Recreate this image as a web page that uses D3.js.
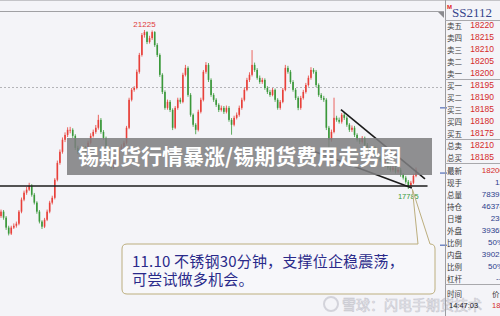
<!DOCTYPE html>
<html>
<head>
<meta charset="utf-8">
<script src="https://cdn.jsdelivr.net/npm/d3@7"></script>
<style>
  body { margin: 0; background: #f4f4f8; overflow: hidden; }
</style>
</head>
<body>
<div id="chart"></div>
<script>
// K线数据: [open, high, low, close]
var candles = [
  [17200,17340,17160,17295],[17295,17330,17120,17165],[17165,17200,16900,16950],[16950,16990,16780,16820],
  [16820,16990,16790,16950],[16950,17040,16920,16990],[16990,17080,16950,17035],[17035,17330,17000,17295],
  [17295,17600,17260,17555],[17555,17750,17520,17705],[17705,17830,17660,17770],[17770,17920,17740,17855],
  [17855,17890,17620,17660],[17660,17700,17450,17490],[17490,17520,17250,17295],[17295,17330,17040,17080],
  [17080,17110,16920,16970],[16970,17160,16940,17120],[17120,17340,17090,17295],[17295,17530,17260,17490],
  [17490,17640,17450,17595],
  [17595,18020,17560,17985],[17985,18400,17950,18350],[18350,18640,18310,18590],[18590,18900,18550,18850],
  [18850,19010,18800,18955],[18955,19120,18910,19065],[19065,19130,18990,19065],[19065,19100,18890,18935],
  [18935,18970,18630,18675],[18675,18720,18540,18590],[18590,18690,18550,18635],[18635,18720,18600,18675],
  [18675,18710,18550,18590],[18590,18830,18560,18785],[18785,18990,18750,18935],[18935,19070,18900,19020],
  [19020,19170,18980,19110],[19110,19390,19070,19280],[19280,19320,18980,19020],[19020,19060,18850,18890],
  [18890,18920,18630,18675],[18675,18710,18370,18415],[18415,18450,18200,18245],[18245,18420,18210,18375],
  [18375,18460,18330,18415],[18415,18680,18380,18635],[18635,18750,18600,18700],[18700,18830,18660,18785],
  [18785,19150,18750,19110],
  [19110,19760,19080,19715],[19715,19970,19680,19930],[19930,20010,19890,19970],[19970,20370,19940,20320],
  [20320,20730,20280,20685],[20685,21160,20650,21115],[21115,21225,21060,21180],[21180,21200,20920,20965],
  [20965,21100,20930,21050],[21050,21215,21010,21180],
  [21180,21200,20860,20900],[20900,20940,20640,20685],[20685,20720,20210,20255],[20255,20290,19840,19885],
  [19885,19920,19500,19540],[19540,19720,19500,19670],[19670,19710,19450,19495],[19495,19530,19060,19110],
  [19110,19580,19080,19540],[19540,19760,19500,19715],[19715,19760,19630,19670],[19670,20300,19640,20255],
  [20255,20470,20220,20405],[20405,20440,19780,19820],[19820,19860,19350,19390],[19390,19420,19130,19175],
  [19175,19210,18970,19065],[19065,19500,19030,19455],[19455,19760,19420,19715],[19715,20360,19680,20320],
  [20320,20530,20280,20470],[20470,20510,20100,20145],[20145,20180,19780,19820],[19820,19860,19670,19715],
  [19715,19750,19560,19605],[19605,19640,19450,19495],[19495,19590,19460,19540],[19540,19580,19410,19455],
  [19455,19590,19420,19540],
  [19540,19580,19240,19280],[19280,19320,18960,19175],[19175,19370,19140,19325],[19325,19440,19290,19390],
  [19390,19590,19350,19540],[19540,19760,19500,19715],[19715,19980,19680,19930],[19930,20190,19900,20145],
  [20145,20310,20100,20255],[20255,20790,20220,20470],[20470,20520,20320,20360],[20360,20400,20150,20190],
  [20190,20240,20060,20100],[20100,20190,20060,20145],[20145,20180,19930,19970],[19970,20010,19840,19885],
  [19885,19930,19780,19820],[19820,19970,19790,19930],[19930,19960,19670,19715],[19715,19750,19500,19540],
  [19540,19710,19500,19670],[19670,19970,19640,19930],[19930,20470,19900,20405],[20405,20450,20280,20320],
  [20320,20360,20060,20100],[20100,20140,19890,19930],[19930,19970,19710,19755],[19755,19790,19490,19540],
  [19540,19800,19500,19755],[19755,19930,19720,19885],[19885,20080,19850,20035],[20035,20240,20000,20190],
  [20190,20420,20150,20360],[20360,20400,20280,20320],[20320,20360,19990,20035],[20035,20070,19780,19820],
  [19820,19860,19710,19755],[19755,19800,19670,19715],
  [19715,19750,19060,19110],[19110,19150,18640,18850],[18850,19070,18810,19020],[19020,19760,18990,19325],
  [19325,19370,19240,19280],[19280,19330,19200,19240],[19240,19430,19200,19390],[19390,19430,19280,19325],
  [19325,19360,19130,19175],[19175,19210,19020,19065],[19065,19160,19020,19110],[19110,19150,18910,18955],
  [18955,18990,18810,18850],[18850,18890,18760,18805],[18805,18930,18770,18890],[18890,18920,18700,18740],
  [18740,18780,18590,18635],[18635,18680,18550,18590],[18590,18720,18550,18675],[18675,18710,18480,18525],
  [18525,18570,18420,18460],[18460,18500,18370,18415],[18415,18450,18270,18310],[18310,18420,18280,18375],
  [18375,18410,18200,18245],[18245,18290,18160,18200],[18200,18290,18160,18245],[18245,18280,18120,18160],
  [18160,18250,18120,18200],[18200,18240,18050,18095],[18095,18130,17990,18030],[18030,18070,17900,17940],
  [17940,17980,17785,17855],[17855,17960,17820,17920],[17920,18110,17890,18070],[18070,18250,18040,18200]
];

// 标注的高低点 (candle index)
var extremeIdx = [56, 159];
var refPrice = 20000;
var supportLine = [[-0.4, 17850], [166.5, 17850]];
var upperChannel = [[132.7, 19500], [165.5, 18005]];
var lowerChannel = [[122.6, 18590], [160.4, 17805]];
var pointerTip = [160.6, 17775];
var axisMarks = [19540, 18130, 16570];

var title = '锡期货行情暴涨/锡期货费用走势图';
var noteLines = ['11.10 不锈钢30分钟，支撑位企稳震荡，', '可尝试做多机会。'];
var watermark = '雪球：闪电手期货技术';

// 右侧报价栏
var quoteCode = 'SS2112';
var askLabels = ['卖五', '卖四', '卖三', '卖二', '卖一'];
var askPrices = [18220, 18215, 18210, 18205, 18200];
var bidLabels = ['买一', '买二', '买三', '买四', '买五'];
var bidPrices = [18195, 18190, 18185, 18180, 18175];
var totalLabels = ['总卖', '总买'];
var totalPrices = [18210, 18185];
var statLabels = ['最新', '现手', '总量', '持仓', '日增', '外盘', '比例', '内盘', '比例', '杠杆'];
var statValues = ['18200', '12', '78391', '46374', '236', '39365', '50%', '39023', '50%', '---'];
var timeHeads = ['时间', '价'];
var timeValues = ['14:47:03', '18200'];

var width = 500, height = 316;
var upColor = '#e8403a', downColor = '#3a983a';
var cjk = '"Noto Sans CJK SC", sans-serif';

var svg = d3.select('#chart')
  .append('svg')
  .attr('width', width)
  .attr('height', height)
  .style('display', 'block');

svg.append('rect').attr('width', width).attr('height', height).attr('fill', '#f4f4f8');

var x = d3.scaleLinear().domain([0, candles.length - 1]).range([1, 416]);
var y = d3.scaleLinear().domain([17785, 21225]).range([189, 30]);

svg.append('clipPath').attr('id', 'plot')
  .append('rect').attr('x', 0).attr('y', 12).attr('width', 444).attr('height', 304);

// 顶部边框
svg.append('line').attr('x1', 0).attr('x2', 500).attr('y1', 0.5).attr('y2', 0.5).attr('stroke', '#c4c4c8');
svg.append('line').attr('x1', 0).attr('x2', 444).attr('y1', 11.5).attr('y2', 11.5).attr('stroke', '#a0a0a4');
svg.append('path').attr('d', 'M438,12L444,12L444,18Z').attr('fill', '#8a8a8e');

var plot = svg.append('g').attr('clip-path', 'url(#plot)');

// 参考虚线
plot.append('line')
  .attr('x1', 0).attr('x2', 444)
  .attr('y1', Math.round(y(refPrice)) + 0.5).attr('y2', Math.round(y(refPrice)) + 0.5)
  .attr('stroke', '#b4b4b8').attr('stroke-dasharray', '2,2');

// K线
var k = plot.append('g');
k.selectAll('line')
  .data(candles)
  .enter().append('line')
  .attr('x1', (d, i) => x(i)).attr('x2', (d, i) => x(i))
  .attr('y1', d => y(d[1])).attr('y2', d => y(d[2]))
  .attr('stroke', d => d[3] >= d[0] ? upColor : downColor)
  .attr('stroke-width', 0.8);

k.selectAll('rect')
  .data(candles)
  .enter().append('rect')
  .attr('x', (d, i) => x(i) - 0.8)
  .attr('width', 1.6)
  .attr('y', d => y(Math.max(d[0], d[3])))
  .attr('height', d => Math.max(0.8, Math.abs(y(d[0]) - y(d[3]))))
  .attr('fill', d => d[3] >= d[0] ? upColor : downColor);

// 高低点标注
plot.append('text')
  .attr('x', x(extremeIdx[0])).attr('y', y(candles[extremeIdx[0]][1]) - 3)
  .attr('text-anchor', 'middle')
  .style('font', '8px "Liberation Sans", sans-serif')
  .attr('fill', '#e03a3a')
  .text(candles[extremeIdx[0]][1]);

plot.append('text')
  .attr('x', x(extremeIdx[1])).attr('y', y(candles[extremeIdx[1]][2]) + 10)
  .attr('text-anchor', 'middle')
  .style('font', '7.5px "Liberation Sans", sans-serif')
  .attr('fill', '#3a9a3a')
  .text(candles[extremeIdx[1]][2]);

// 趋势线
var line = d3.line().x(d => x(d[0])).y(d => y(d[1]));
[supportLine, upperChannel, lowerChannel].forEach(function(seg) {
  plot.append('path')
    .attr('d', line(seg))
    .attr('stroke', '#1c1c1c')
    .attr('stroke-width', 1.6)
    .attr('fill', 'none');
});

// 右侧价格刻度
svg.selectAll('line.mark')
  .data(axisMarks)
  .enter().append('line')
  .attr('class', 'mark')
  .attr('x1', 440).attr('x2', 447)
  .attr('y1', d => y(d)).attr('y2', d => y(d))
  .attr('stroke', '#3050a8');

// 标题横幅
svg.append('rect')
  .attr('x', 67).attr('y', 138).attr('width', 365).attr('height', 37)
  .attr('fill', '#7e7e80').attr('opacity', 0.86);

svg.append('text')
  .attr('x', 78).attr('y', 164)
  .style('font-family', cjk).style('font-size', '21px').style('font-weight', 'bold')
  .attr('fill', '#ffffff')
  .text(title);

// 注释框
var tx = x(pointerTip[0]), ty = y(pointerTip[1]);
var bx0 = 122, bx1 = 435, by0 = 244, by1 = 294, r = 5;
var callout = 'M' + (bx0 + r) + ',' + by0 + 'L418,' + by0 + 'L' + tx + ',' + ty + 'L430,' + by0 +
  'Q' + bx1 + ',' + by0 + ' ' + bx1 + ',' + (by0 + r) + 'L' + bx1 + ',' + (by1 - r) +
  'Q' + bx1 + ',' + by1 + ' ' + (bx1 - r) + ',' + by1 + 'L' + (bx0 + r) + ',' + by1 +
  'Q' + bx0 + ',' + by1 + ' ' + bx0 + ',' + (by1 - r) + 'L' + bx0 + ',' + (by0 + r) +
  'Q' + bx0 + ',' + by0 + ' ' + (bx0 + r) + ',' + by0 + 'Z';
svg.append('path')
  .attr('d', callout)
  .attr('fill', '#f7f7fa')
  .attr('stroke', '#bcae7e')
  .attr('stroke-width', 1);

svg.selectAll('text.note')
  .data(noteLines)
  .enter().append('text')
  .attr('class', 'note')
  .attr('x', 132)
  .attr('y', (d, i) => 267 + i * 18)
  .style('font-family', cjk).style('font-size', '15px').style('letter-spacing', '0.2px')
  .attr('fill', '#2a2a8a')
  .text(d => d);

// 水印
var wm = svg.append('g').attr('opacity', 0.9);
wm.append('circle').attr('cx', 331).attr('cy', 304).attr('r', 7)
  .attr('fill', 'none').attr('stroke', '#d0d0d8').attr('stroke-width', 2);
wm.append('text')
  .attr('x', 342).attr('y', 310)
  .style('font-family', cjk).style('font-size', '14px')
  .attr('fill', '#ececf2').attr('stroke', '#c4c4cc').attr('stroke-width', 0.6)
  .text(watermark);

// 右侧报价栏
var panel = svg.append('g');
panel.append('line').attr('x1', 445.5).attr('x2', 445.5).attr('y1', 0).attr('y2', 316).attr('stroke', '#9c9ca0');
[20.5, 79.5, 139.5, 163.5, 284.5].forEach(function(yy) {
  panel.append('line').attr('x1', 445).attr('x2', 500).attr('y1', yy).attr('y2', yy).attr('stroke', '#a8a8ac');
});

panel.append('text').attr('x', 447).attr('y', 9)
  .style('font', 'bold 6px "Liberation Sans", sans-serif').attr('fill', '#e02020').text('M');
panel.append('text').attr('x', 452).attr('y', 17)
  .style('font', '13px "Liberation Serif", serif').attr('fill', '#34448c').text(quoteCode);

var rows = [];
askLabels.forEach((l, i) => rows.push({ label: l, value: askPrices[i], y: 25 + i * 12, color: '#d42a2a' }));
bidLabels.forEach((l, i) => rows.push({ label: l, value: bidPrices[i], y: 85 + i * 12, color: '#d42a2a' }));
totalLabels.forEach((l, i) => rows.push({ label: l, value: totalPrices[i], y: 145 + i * 12, color: '#d42a2a' }));

panel.selectAll('text.lab')
  .data(rows.concat(statLabels.map((l, i) => ({ label: l, y: 170 + i * 12 }))))
  .enter().append('text')
  .attr('class', 'lab')
  .attr('x', 447).attr('y', d => d.y)
  .attr('dominant-baseline', 'central')
  .style('font-family', cjk).style('font-size', '7.5px')
  .attr('fill', '#3a3a3a')
  .text(d => d.label);

panel.selectAll('text.val')
  .data(rows)
  .enter().append('text')
  .attr('class', 'val')
  .attr('x', 494).attr('y', d => d.y)
  .attr('text-anchor', 'end').attr('dominant-baseline', 'central')
  .style('font', '8.5px "Liberation Sans", sans-serif')
  .attr('fill', d => d.color)
  .text(d => d.value);

panel.selectAll('text.stat')
  .data(statValues)
  .enter().append('text')
  .attr('class', 'stat')
  .attr('x', 504).attr('y', (d, i) => 170 + i * 12)
  .attr('text-anchor', 'end').attr('dominant-baseline', 'central')
  .style('font', '8px "Liberation Sans", sans-serif')
  .attr('fill', (d, i) => i === 0 ? '#d42a2a' : '#2c3c8c')
  .text(d => d);

panel.append('text').attr('x', 447).attr('y', 293).attr('dominant-baseline', 'central')
  .style('font-family', cjk).style('font-size', '7.5px').attr('fill', '#3a3a3a').text(timeHeads[0]);
panel.append('text').attr('x', 492).attr('y', 293).attr('dominant-baseline', 'central')
  .style('font-family', cjk).style('font-size', '7.5px').attr('fill', '#3a3a3a').text(timeHeads[1]);
panel.append('text').attr('x', 449).attr('y', 305).attr('dominant-baseline', 'central')
  .style('font', '7.5px "Liberation Sans", sans-serif').attr('fill', '#222').text(timeValues[0]);
panel.append('text').attr('x', 492).attr('y', 305).attr('dominant-baseline', 'central')
  .style('font', '7.5px "Liberation Sans", sans-serif').attr('fill', '#d42a2a').text(timeValues[1]);
</script>
</body>
</html>
